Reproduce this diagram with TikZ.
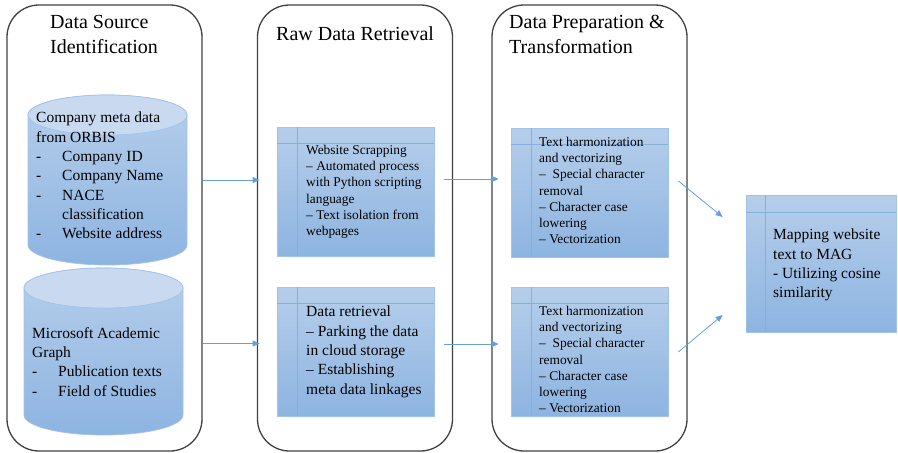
\documentclass[tikz,border=0pt]{standalone}
\usepackage{fontspec}
\setmainfont{Liberation Serif}
\usetikzlibrary{arrows.meta}

\begin{document}
\begin{tikzpicture}[x=1pt,y=-1pt,
    panel/.style={draw=panelline, line width=1.3pt, rounded corners=32pt},
    title/.style={anchor=north west, inner sep=0, align=left, font=\fontsize{20}{25}\selectfont},
    bigtxt/.style={anchor=north west, inner sep=0, align=left, font=\fontsize{15.5}{19.3}\selectfont},
    smalltxt/.style={anchor=north west, inner sep=0, align=left, font=\fontsize{13.4}{16.2}\selectfont},
    procbox/.style={draw=boxline, line width=0.7pt, top color=boxtop, bottom color=boxbot, inner sep=0},
    grid/.style={draw=gridline, line width=0.6pt},
    flow/.style={draw=flowline, line width=0.8pt, -{Triangle[length=7pt,width=6pt]}}]

  % Color definitions
  \definecolor{panelline}{RGB}{64,64,64}
  \definecolor{boxtop}{RGB}{182,206,235}     % light blue
  \definecolor{boxbot}{RGB}{141,180,225}     % darker blue
  \definecolor{boxline}{RGB}{160,195,233}
  \definecolor{gridline}{RGB}{135,175,222}
  \definecolor{captop}{RGB}{201,218,240}
  \definecolor{flowline}{RGB}{100,160,218}

  \useasboundingbox (0,0) rectangle (898,453);

  % Helper macro  {name}{x left}{y top}{x right}{y bottom}
  \newcommand{\dbcyl}[5]{%
    % Body
    \shade[top color=boxtop, bottom color=boxbot, draw=boxline, line width=0.7pt]
      (#2,#3+20) -- (#2,#5-20)
      arc[start angle=180, end angle=360, x radius={(#4-#2)/2*1pt}, y radius=20pt]
      -- (#4,#3+20)
      arc[start angle=0, end angle=180, x radius={(#4-#2)/2*1pt}, y radius=20pt] -- cycle;
    % Top cap
    \draw[fill=captop, draw=boxline, line width=0.7pt]
      ({(#2+#4)/2},#3+20) ellipse [x radius={(#4-#2)/2*1pt}, y radius=20pt];
    % Anchor node
    \node[inner sep=0, minimum width={(#4-#2)*1pt}, minimum height={(#5-#3)*1pt}]
      (#1) at ({(#2+#4)/2},{(#3+#5)/2}) {};}

  % Helper macro  {name}{x left}{y top}{x right}{y bottom}{grid x}{grid y}
  \newcommand{\stepcard}[7]{%
    \node[procbox, minimum width={(#4-#2)*1pt}, minimum height={(#5-#3)*1pt}]
      (#1) at ({(#2+#4)/2},{(#3+#5)/2}) {};
    \draw[grid] (#6,#3) -- (#6,#5);
    \draw[grid] (#2,#7) -- (#4,#7);}

  % Three stage panels
  \node[panel, minimum width=195pt, minimum height=446pt] (source) at (104.5,228) {};
  \node[panel, minimum width=195pt, minimum height=446pt] (retrieval) at (355,228) {};
  \node[panel, minimum width=195pt, minimum height=446pt] (prep) at (589.5,228) {};

  \node[title] (sourcetitle) at (50,15) {Data Source\\Identification};
  \node[title] (retrievaltitle) at (276,26) {Raw Data Retrieval};
  \node[title] (preptitle) at (509,15) {Data Preparation \&\\Transformation};

  % Data sources
  \dbcyl{orbis}{28}{95}{187}{265}
  \dbcyl{mag}{24}{268}{183}{435}

  \node[bigtxt] (orbistxt) at (36,112) {Company meta data\\from ORBIS\\
    \makebox[26pt][l]{-}Company ID\\
    \makebox[26pt][l]{-}Company Name\\
    \makebox[26pt][l]{-}NACE\\
    \hspace*{26pt}classification\\
    \makebox[26pt][l]{-}Website address};
  \node[bigtxt] (magtxt) at (32,327) {Microsoft Academic\\Graph\\
    \makebox[26pt][l]{-}Publication texts\\
    \makebox[26pt][l]{-}Field of Studies};

  % Process cards
  \stepcard{web}{277}{127}{434}{256}{297}{143}
  \stepcard{data}{277}{287}{434}{416}{297}{303}
  \stepcard{prepA}{511}{128}{668}{257}{531}{144}
  \stepcard{prepB}{511}{287}{668}{416}{531}{303}
  \stepcard{map}{746}{195}{896}{332}{765}{212}

  \node[smalltxt] (webtxt) at (306,145) {Website Scrapping\\
    -- Automated process\\with Python scripting\\language\\
    -- Text isolation from\\webpages};
  \node[bigtxt] (datatxt) at (306,306) {Data retrieval\\
    -- Parking the data\\in cloud storage\\
    -- Establishing\\meta data linkages};
  \node[smalltxt] (prepAtxt) at (539,137) {Text harmonization\\and vectorizing\\
    --\ \ Special character\\removal\\
    -- Character case\\lowering\\-- Vectorization};
  \node[smalltxt] (prepBtxt) at (539,306) {Text harmonization\\and vectorizing\\
    --\ \ Special character\\removal\\
    -- Character case\\lowering\\-- Vectorization};
  \node[bigtxt] (maptxt) at (773,229) {Mapping website\\text to MAG\\
    - Utilizing cosine\\similarity};

  % Flow arrows
  \draw[flow] ([xshift=16pt]orbis.east) -- ([xshift=-17pt]orbis.east -| web.west);
  \draw[flow] ([xshift=20pt,yshift=8pt]mag.east) -- ([xshift=-17pt,yshift=8pt]mag.east -| data.west);
  \draw[flow] ([xshift=10pt,yshift=12.5pt]web.east) -- ([xshift=-12pt,yshift=12.5pt]web.east -| prepA.west);
  \draw[flow] ([xshift=10pt,yshift=7.5pt]data.east) -- ([xshift=-12pt,yshift=7.5pt]data.east -| prepB.west);
  \draw[flow] ([xshift=10pt,yshift=11.5pt]prepA.east) -- ([xshift=-23pt,yshift=46.5pt]map.west);
  \draw[flow] ([xshift=10pt,yshift=-0.5pt]prepB.east) -- ([xshift=-23pt,yshift=-51.5pt]map.west);
\end{tikzpicture}
\end{document}
